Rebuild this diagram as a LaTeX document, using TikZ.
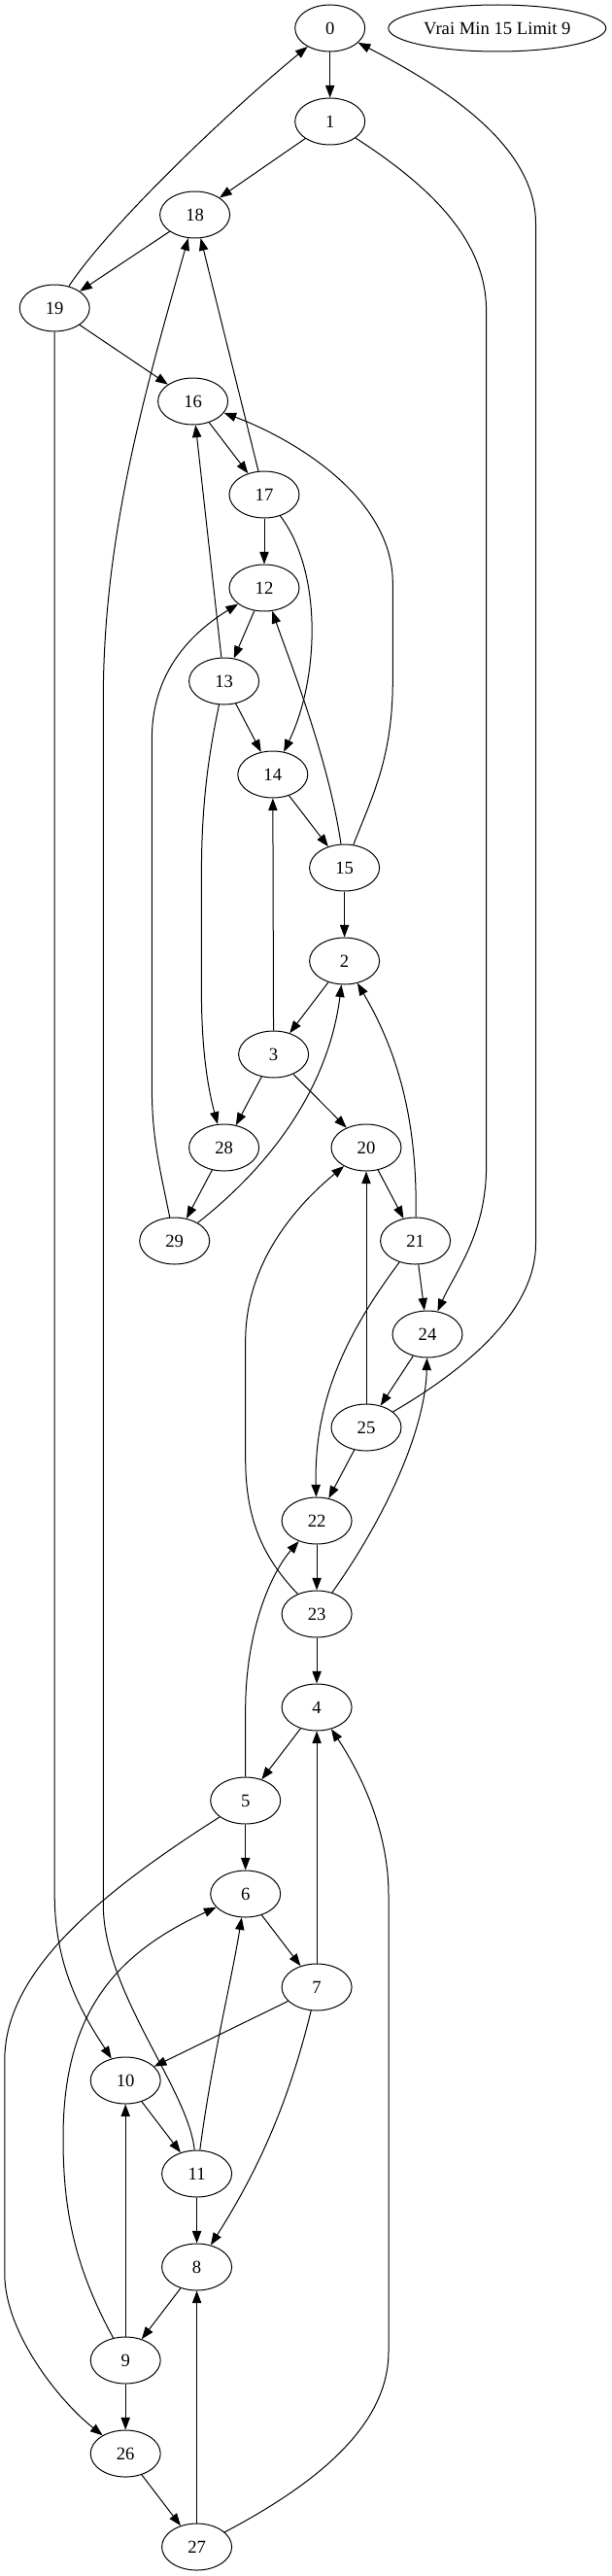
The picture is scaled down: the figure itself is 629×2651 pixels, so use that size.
\documentclass[tikz,border=0pt]{standalone}
\usepackage{fontspec}
\setmainfont{Liberation Serif}
\usetikzlibrary{shapes.geometric,arrows.meta}

\begin{document}
\begin{tikzpicture}[x=0.75pt, y=-0.75pt,
    vtx/.style={ellipse, draw, line width=0.75pt, minimum width=54pt, minimum height=36pt, inner sep=0pt, font=\fontsize{14}{16}\selectfont},
    link/.style={line width=0.75pt, -{Triangle[length=9.5pt, width=7pt]}}]
    \useasboundingbox (0,0) rectangle (629,2651);

    \foreach \n/\x/\y in {0/339.7/29, 1/339.7/125, 18/200.6/221, 19/56.2/317, 16/198.6/413,
        17/272/509, 12/272/605, 13/230.6/701, 14/280.8/797, 15/354.6/893, 2/354.6/989,
        3/281.6/1085, 28/230.6/1181, 20/377/1181, 29/179.7/1277, 21/427.6/1277,
        24/440/1373, 25/377/1469, 22/326.1/1565, 23/326.1/1661, 4/326.1/1757,
        5/252.7/1853, 6/252.7/1949, 7/326.1/2045, 10/129.2/2141, 11/202.6/2237,
        8/202.6/2333, 9/129.2/2429, 26/129.2/2525, 27/202.6/2621} {
        \node[vtx] (n\n) at (\x, \y) {\n};
    }
    \node[vtx, minimum width=168pt] (lbl) at (511.8, 29) {Vrai Min 15 Limit 9};

    \foreach \a/\b in {0/1, 1/18, 18/19, 19/16, 16/17, 17/18, 13/16, 17/12, 12/13, 13/14,
        14/15, 3/14, 15/2, 2/3, 3/28, 3/20, 28/29, 20/21, 21/24, 24/25, 25/20, 25/22,
        22/23, 23/4, 4/5, 7/4, 5/6, 6/7, 7/10, 10/11, 9/10, 11/8, 8/9, 27/8, 9/26, 26/27} {
        \draw[link] (n\a) -- (n\b);
    }

    % long arcs
    \draw[link] (n19) .. controls (110,235) and (229,120) .. (n0);
    \draw[link] (n1) .. controls (448,195) and (500.6,250) .. (500.6,320) -- (500.6,1200) .. controls (500.6,1270) and (468,1310) .. (n24);
    \draw[link] (n25) .. controls (478,1410) and (551.5,1350) .. (551.5,1280) -- (551.5,230) .. controls (551.5,150) and (458,90) .. (n0);
    \draw[link] (n19) -- (56.2,1950) .. controls (56.2,2030) and (90,2080) .. (n10);
    \draw[link] (n11) .. controls (194,2150) and (106.3,2050) .. (106.3,1960) -- (106.3,720) .. controls (106.3,550) and (150,400) .. (n18);
    \draw[link] (n15) .. controls (383,820) and (404.3,780) .. (404.3,700) -- (404.3,600) .. controls (404.3,510) and (298,450) .. (n16);
    \draw[link] (n17) .. controls (333,590) and (328,700) .. (n14);
    \draw[link] (n15) .. controls (338,780) and (298,680) .. (n12);
    \draw[link] (n29) .. controls (164,1200) and (156.4,1170) .. (156.4,1120) -- (156.4,760) .. controls (156.4,690) and (199,650) .. (n12);
    \draw[link] (n13) .. controls (214,780) and (207.4,830) .. (207.4,900) -- (207.4,1020) .. controls (207.4,1080) and (214,1120) .. (n28);
    \draw[link] (n29) .. controls (278,1200) and (338,1120) .. (n2);
    \draw[link] (n21) .. controls (430,1150) and (408,1080) .. (n2);
    \draw[link] (n23) .. controls (268,1600) and (252.7,1560) .. (252.7,1500) -- (252.7,1380) .. controls (252.7,1290) and (318,1230) .. (n20);
    \draw[link] (n5) -- (252.7,1760) .. controls (252.7,1680) and (278,1620) .. (n22);
    \draw[link] (n21) .. controls (358,1370) and (323,1440) .. (n22);
    \draw[link] (n23) .. controls (398,1560) and (438,1470) .. (n24);
    \draw[link] (n27) .. controls (318,2560) and (400,2500) .. (400,2420) -- (400,1950) .. controls (400,1880) and (368,1820) .. (n4);
    \draw[link] (n5) .. controls (100,1950) and (4.8,2030) .. (4.8,2120) -- (4.8,2340) .. controls (4.8,2400) and (60,2470) .. (n26);
    \draw[link] (n9) .. controls (75,2330) and (65,2270) .. (65,2200) .. controls (65,2070) and (120,2010) .. (n6);
    \draw[link] (n11) .. controls (218,2120) and (238,2040) .. (n6);
    \draw[link] (n7) .. controls (298,2160) and (268,2230) .. (n8);

\end{tikzpicture}
\end{document}
